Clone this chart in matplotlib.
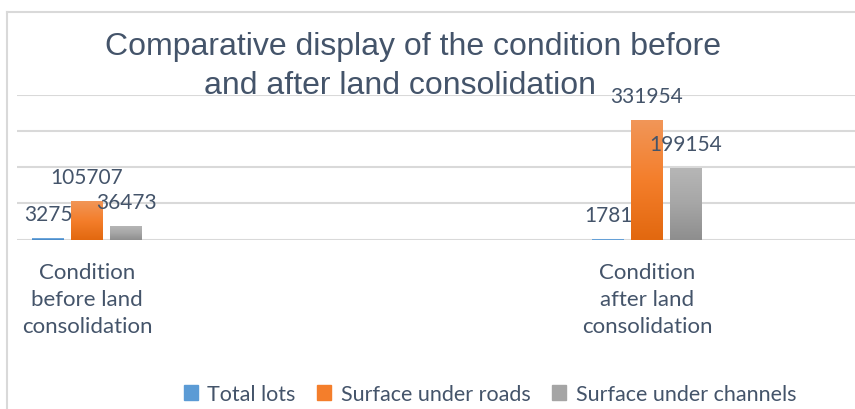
import matplotlib
matplotlib.use("Agg")
import matplotlib.pyplot as plt
import matplotlib.patches as mpatches
from matplotlib.colors import LinearSegmentedColormap
from matplotlib.lines import Line2D
import numpy as np

# data
categories = ["Condition\nbefore land\nconsolidation", "Condition\nafter land\nconsolidation"]
series_names = ["Total lots", "Surface under roads", "Surface under channels"]
total_lots = [3275, 1781]
roads = [105707, 331954]
channels = [36473, 199154]
title_lines = ["Comparative display of the condition before", "and after land consolidation"]

TEXT = "#44546A"
GRID = "#D9D9D9"

# top -> bottom gradient stops per series
gradients = [
    ["#7FB2E3", "#5B9BD5", "#3E7EC0"],
    ["#F19658", "#F47E2B", "#E2680F"],
    ["#B6B6B6", "#A6A6A6", "#8E8E8E"],
]
solid = ["#5B9BD5", "#F47E2B", "#A5A5A5"]

W, H = 855, 410
fig = plt.figure(figsize=(W / 100, H / 100), dpi=100)
ax = fig.add_axes([17 / W, (H - 240.5) / H, 1 - 17 / W, (240.5 - 96) / H])

# chart frame (cropped on right / bottom)
fig.add_artist(Line2D([7 / W, 7 / W], [0, (H - 13) / H], color=GRID, lw=1.5))
fig.add_artist(Line2D([7 / W, 1], [(H - 13) / H, (H - 13) / H], color=GRID, lw=1.5))

x = np.arange(len(categories))
width = 0.057
step = 0.0696
grad = np.linspace(0, 1, 256).reshape(-1, 1)

all_vals = [total_lots, roads, channels]
for k, vals in enumerate(all_vals):
    off = (k - 1) * step
    bars = ax.bar(x + off, vals, width, color=solid[k], zorder=3, linewidth=0)
    cmap = LinearSegmentedColormap.from_list("g%d" % k, gradients[k][::-1])
    for b, v in zip(bars, vals):
        b.set_alpha(0)
        im = ax.imshow(grad, cmap=cmap, origin="lower", aspect="auto",
                       extent=[b.get_x(), b.get_x() + b.get_width(), 0, max(v, 1)],
                       zorder=3.5)
        im.set_clip_path(b)
        ax.annotate(str(v), (b.get_x() + b.get_width() / 2, v),
                    xytext=(0, 13), textcoords="offset points",
                    ha="center", va="baseline", fontsize=15,
                    family=["Lato", "DejaVu Sans"], color=TEXT, zorder=5)

ax.set_xlim(-0.125, -0.125 + (W - 17) / 560)
ax.set_ylim(0, 400000)
ax.set_yticks([0, 100000, 200000, 300000, 400000])
ax.yaxis.grid(True, color=GRID, lw=1.5, zorder=0)
ax.set_axisbelow(True)
ax.tick_params(axis="y", left=False, labelleft=False)
ax.tick_params(axis="x", length=0, pad=16)
ax.set_xticks(x)
ax.set_xticklabels(categories, fontsize=16, color=TEXT, linespacing=1.45,
                   family=["Lato", "DejaVu Sans"])
for s in ax.spines.values():
    s.set_visible(False)

# title, two centred lines as in the reference
for line, cx, base in zip(title_lines, [413, 400], [55, 94]):
    fig.text(cx / W, (H - base) / H, line, ha="center", va="baseline",
             fontsize=23, family=["Liberation Sans", "DejaVu Sans"], color=TEXT)

handles = [mpatches.Patch(color=c, label=n) for c, n in zip(solid, series_names)]
fig.legend(handles=handles, loc="center", bbox_to_anchor=(490 / W, (H - 395) / H),
           ncol=3, frameon=False, handlelength=0.65, handleheight=0.65,
           handletextpad=0.45, columnspacing=1.0, labelcolor=TEXT,
           prop={"family": ["Lato", "DejaVu Sans"], "size": 15.5})

fig.savefig("out.png", dpi=100)
